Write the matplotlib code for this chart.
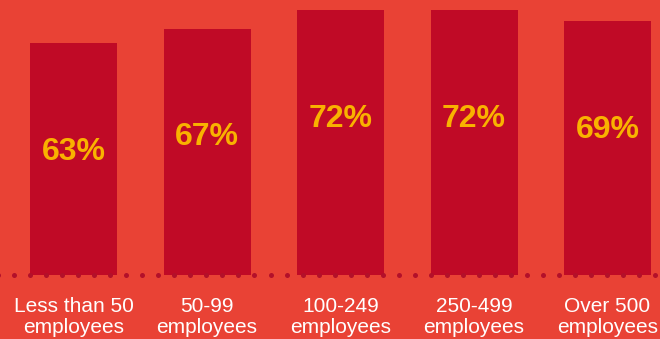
import numpy as np
import matplotlib.pyplot as plt

plt.rcParams['font.family'] = ['Liberation Sans', 'DejaVu Sans']

# Share of respondents by company size
categories = ["Less than 50\nemployees", "50-99\nemployees", "100-249\nemployees",
              "250-499\nemployees", "Over 500\nemployees"]
values = [63, 67, 72, 72, 69]

bg = "#E94235"
bar_color = "#C00A26"
dot_color = "#B3102A"
label_color = "#F9B200"

fig = plt.figure(figsize=(6.6, 3.39), dpi=100, facecolor=bg)
ax = fig.add_axes([0, 0, 1, 1])
ax.set_facecolor(bg)

x = np.arange(len(values))
ax.bar(x, values, width=0.652, color=bar_color, zorder=2)

# dotted baseline
dots_x = np.arange(-0.563, 4.45, 0.1199)
ax.plot(dots_x, np.zeros_like(dots_x), 'o', ms=3.6, color=dot_color,
        mec='none', zorder=3, clip_on=False)

for xi, v in zip(x, values):
    ax.annotate(f"{v}%", (xi, v), xytext=(0, -84), textcoords='offset points',
                ha='center', va='baseline', fontsize=23, fontweight='bold',
                color=label_color, zorder=4)

for xi, cat in zip(x, categories):
    ax.annotate(cat, (xi, 0), xytext=(0, -15.5), textcoords='offset points',
                ha='center', va='top', fontsize=15, color='white',
                linespacing=1.13)

ax.set_xlim(-0.551, 4.393)
ax.set_ylim(-17.4, 74.8)
ax.axis('off')

fig.savefig("out.png", dpi=100, facecolor=bg)
